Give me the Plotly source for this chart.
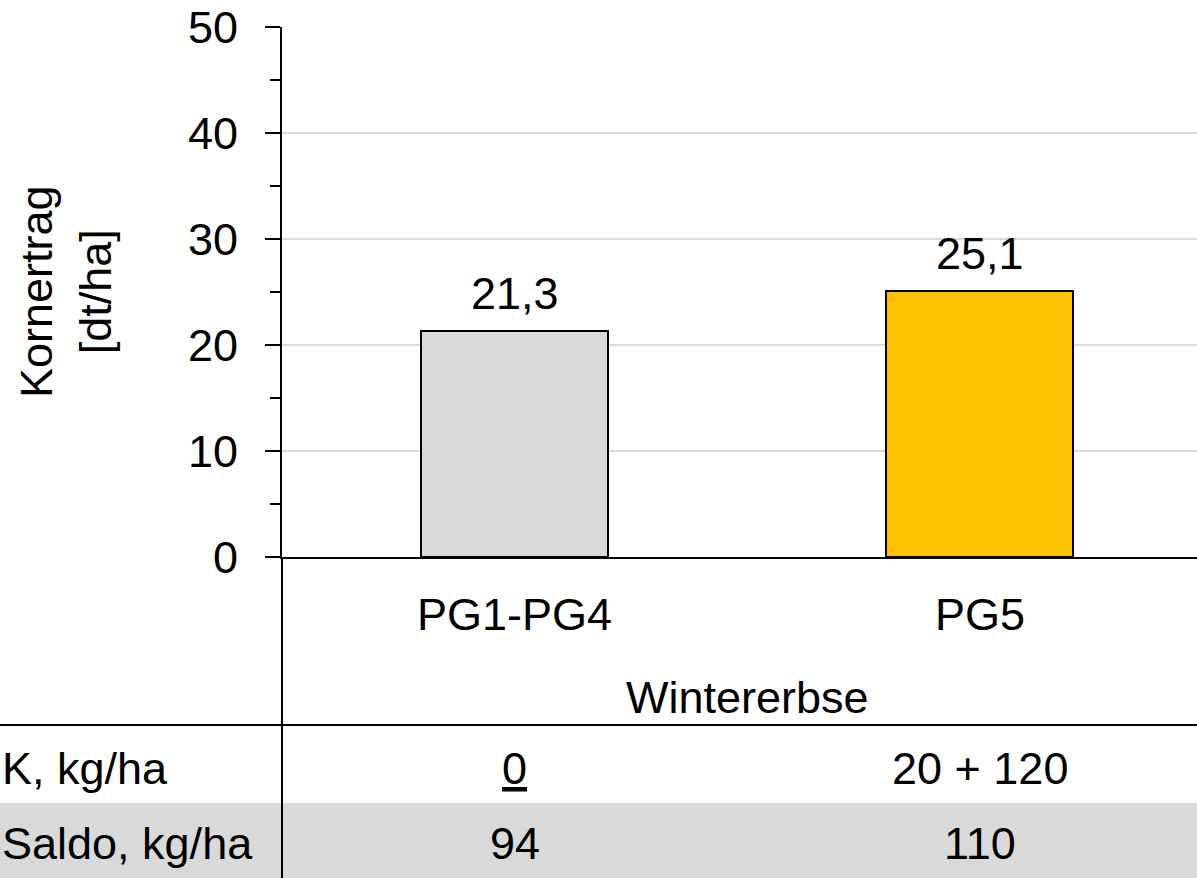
import plotly.graph_objects as go

# ---- data ----
categories = ["PG1-PG4", "PG5"]
yields = [21.3, 25.1]
yield_labels = ["21,3", "25,1"]
group_label = "Wintererbse"
row_labels = ["K, kg/ha", "Saldo, kg/ha"]
k_values = ["<u>0</u>", "20 + 120"]
saldo_values = ["94", "110"]
bar_colors = ["#D9D9D9", "#FFC000"]
y_title = "Kornertrag<br>[dt/ha]"

# ---- layout geometry (pixels) ----
W, H = 1197, 878
L, T = 282, 27
B_AXIS = 557          # pixel y of x-axis
PW = W - L
PH = B_AXIS - T
FONT = "Liberation Sans, Arial, sans-serif"
FS = 45


def py(p):
    return (B_AXIS - p) / PH


def px(p):
    return (p - L) / PW


fig = go.Figure()
fig.add_trace(go.Bar(
    x=categories, y=yields, width=0.402,
    marker=dict(color=bar_colors, line=dict(color="black", width=2)),
    hoverinfo="skip",
))

# x range: category spacing 465 px, plot area cut at right edge
cat_px = 465.0
x_hi = -0.5 + PW / cat_px

fig.update_layout(
    width=W, height=H,
    margin=dict(l=L, r=0, t=T, b=H - B_AXIS, pad=0, autoexpand=False),
    plot_bgcolor="white", paper_bgcolor="white",
    font=dict(family=FONT, size=FS, color="black"),
    showlegend=False,
    bargap=0,
    xaxis=dict(
        type="category", range=[-0.5, x_hi], automargin=False,
        showline=True, linecolor="black", linewidth=2,
        showticklabels=False, ticks="", showgrid=False, zeroline=False,
    ),
    yaxis=dict(
        range=[0, 50], tick0=0, dtick=10, automargin=False,
        ticks="outside", ticklen=15, tickwidth=2, tickcolor="black",
        showline=True, linecolor="black", linewidth=2,
        showgrid=True, gridcolor="#D9D9D9", gridwidth=2,
        zeroline=False, ticklabelstandoff=18,
        tickfont=dict(family=FONT, size=FS, color="black"),
        minor=dict(tick0=0, dtick=5, ticks="outside", ticklen=10,
                   tickwidth=2, tickcolor="black", showgrid=False),
    ),
)

shapes = []
# grey Saldo row background
shapes.append(dict(type="rect", xref="paper", yref="paper",
                   x0=px(-5), x1=px(W + 5), y0=py(803), y1=py(H + 5),
                   fillcolor="#D9D9D9", line=dict(width=0), layer="below"))
# horizontal line under group label
shapes.append(dict(type="line", xref="paper", yref="paper",
                   x0=px(-5), x1=px(W + 5), y0=py(725), y1=py(725),
                   line=dict(color="black", width=2)))
# vertical axis line extension through table
shapes.append(dict(type="line", xref="paper", yref="paper",
                   x0=0, x1=0, y0=0, y1=py(H + 5),
                   line=dict(color="black", width=2)))
fig.update_layout(shapes=shapes)

ann = []
# value labels
for c, v, t in zip(categories, yields, yield_labels):
    ann.append(dict(x=c, y=v, xref="x", yref="y", text=t, showarrow=False,
                    yanchor="bottom", yshift=10, font=dict(size=FS)))
# category labels
for c in categories:
    ann.append(dict(x=c, y=py(614), xref="x", yref="paper", text=c,
                    showarrow=False, yanchor="middle", font=dict(size=FS)))
# group label
ann.append(dict(x=0.5, y=py(697), xref="x", yref="paper", text=group_label,
                showarrow=False, yanchor="middle", font=dict(size=FS)))
# table rows
for c, kv, sv in zip(categories, k_values, saldo_values):
    ann.append(dict(x=c, y=py(768), xref="x", yref="paper", text=kv,
                    showarrow=False, yanchor="middle", font=dict(size=FS)))
    ann.append(dict(x=c, y=py(843), xref="x", yref="paper", text=sv,
                    showarrow=False, yanchor="middle", font=dict(size=FS)))
ann.append(dict(x=px(0), y=py(768), xref="paper", yref="paper",
                text=row_labels[0], showarrow=False, xanchor="left",
                yanchor="middle", font=dict(size=FS)))
ann.append(dict(x=px(0), y=py(843), xref="paper", yref="paper",
                text=row_labels[1], showarrow=False, xanchor="left",
                yanchor="middle", font=dict(size=FS)))
# y-axis title
ann.append(dict(x=px(66), y=0.5, xref="paper", yref="paper", text=y_title,
                textangle=-90, showarrow=False, xanchor="center",
                yanchor="middle", font=dict(size=FS)))
fig.update_layout(annotations=ann)

fig.write_html("out.html",
               config={"displayModeBar": False},
               post_script="document.body.style.margin='0';")
